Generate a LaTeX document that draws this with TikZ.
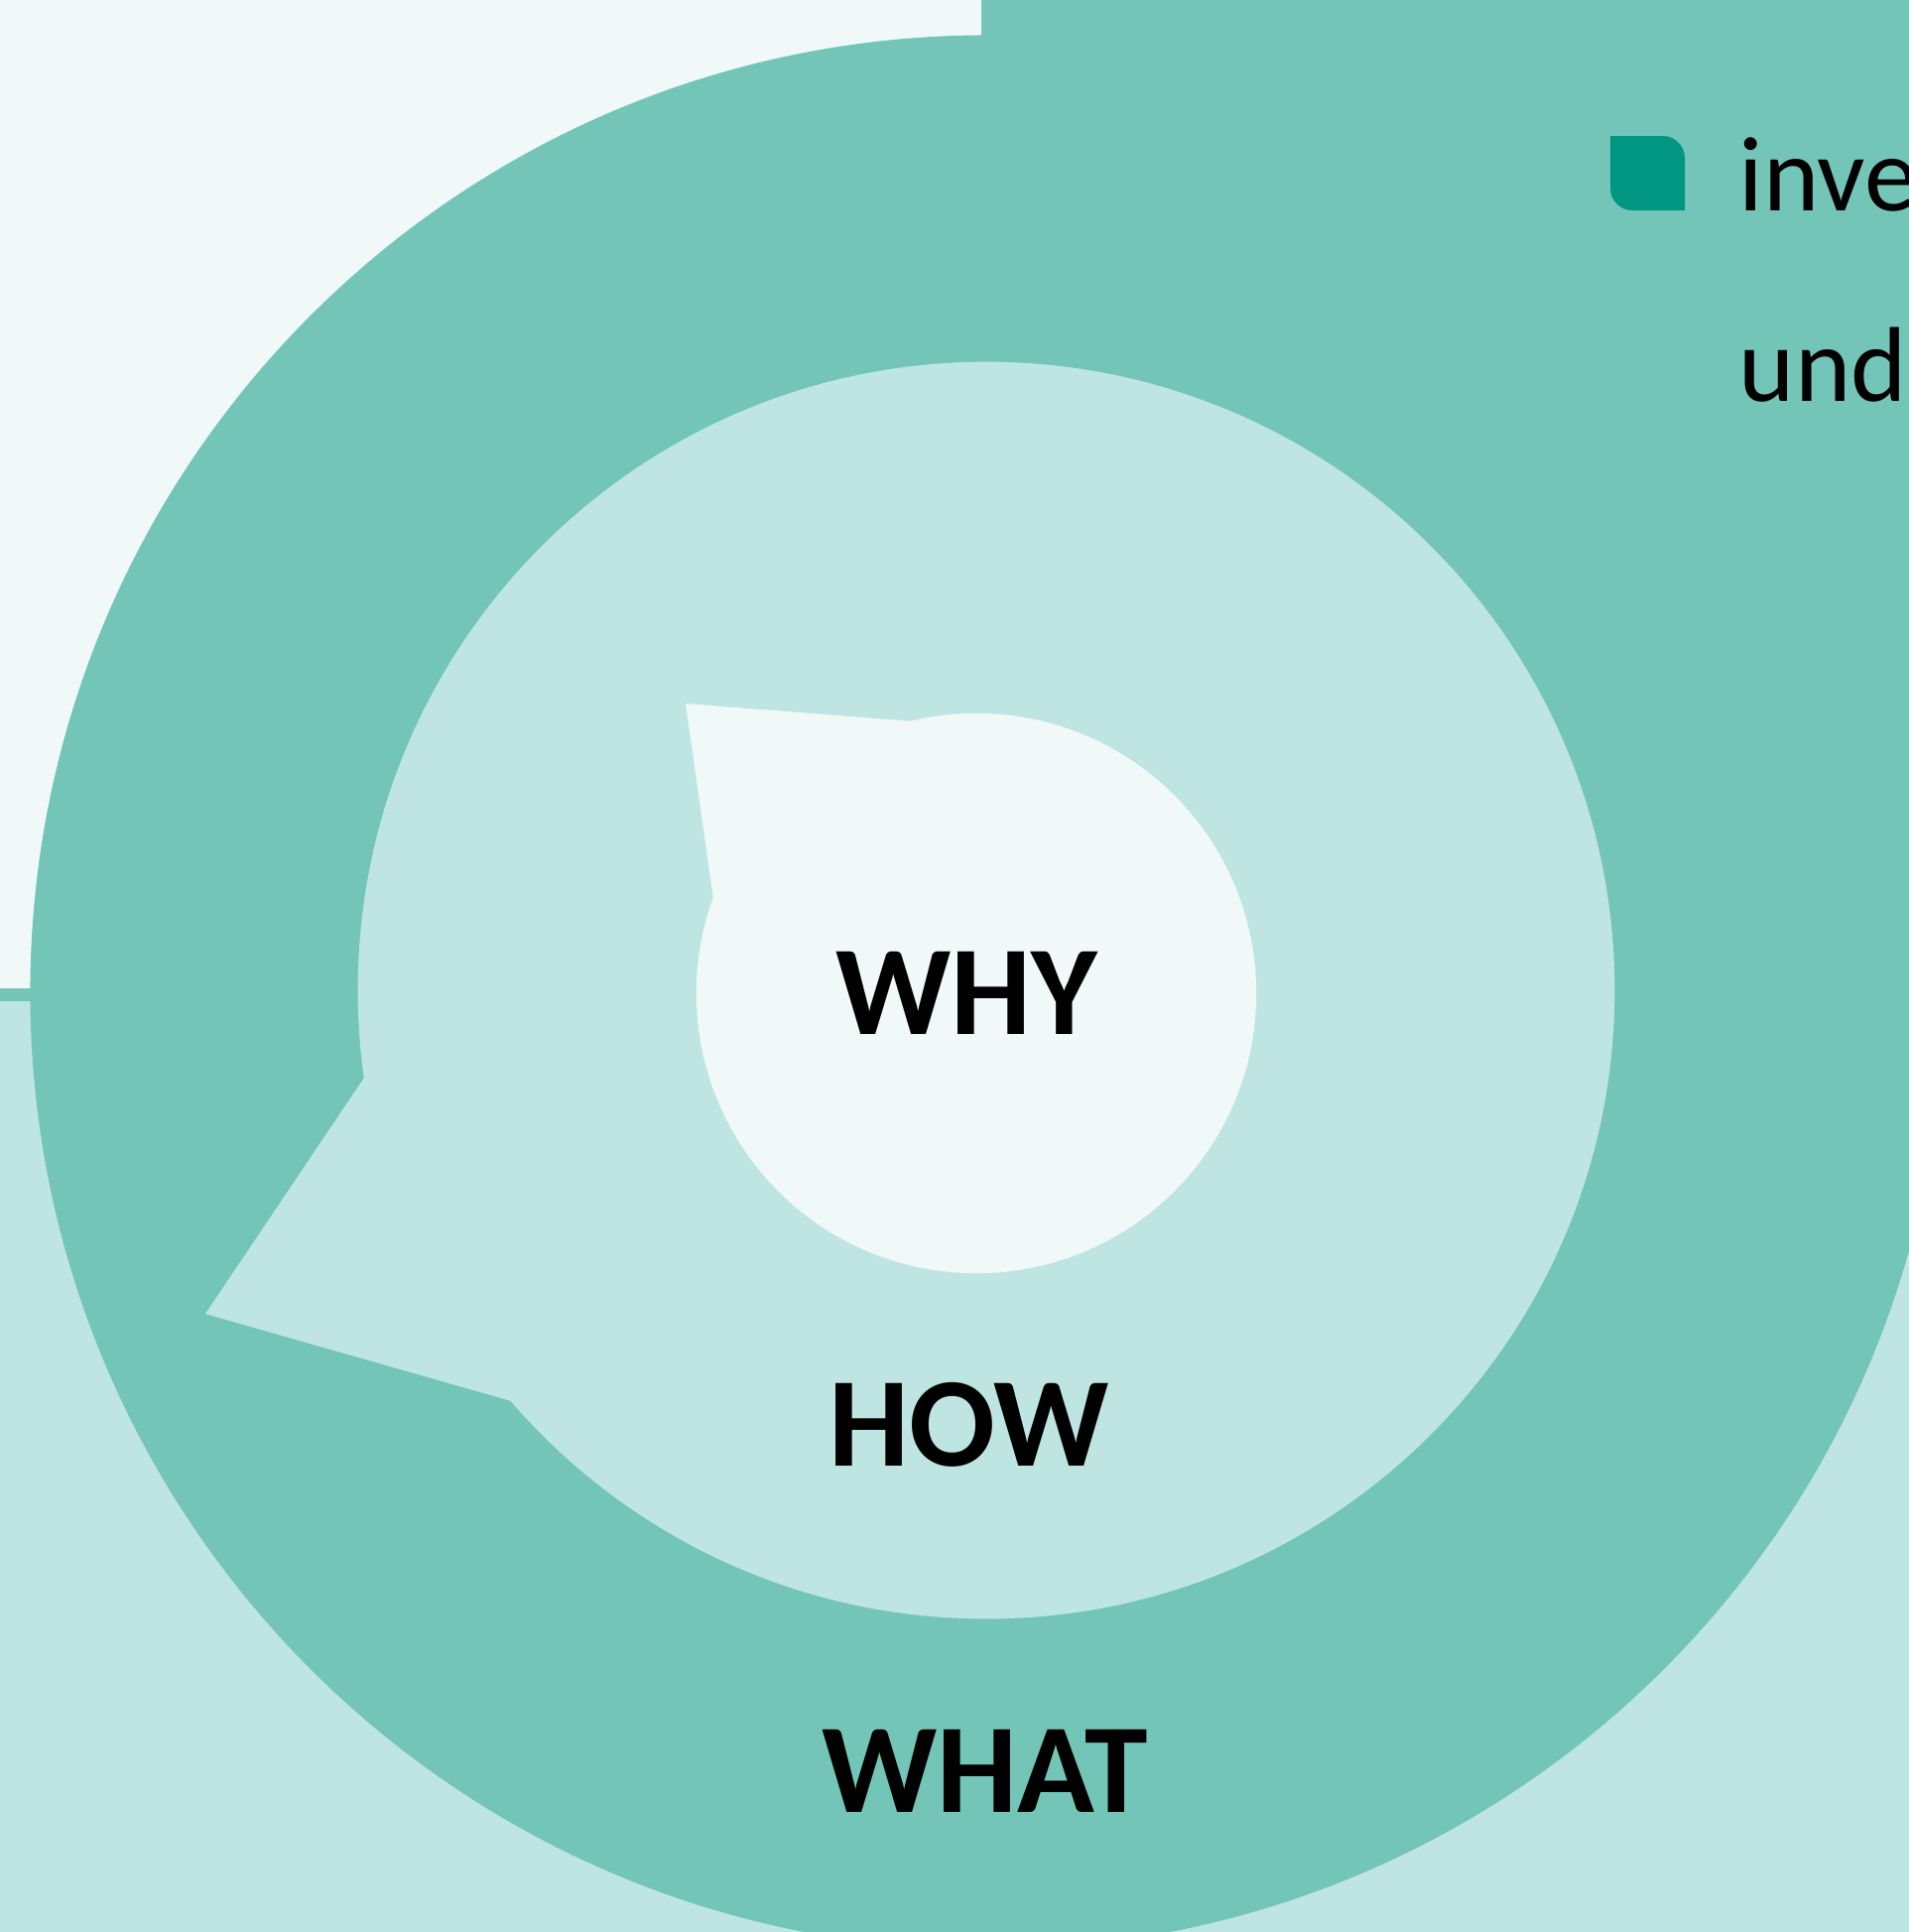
\documentclass[tikz,border=0pt]{standalone}
\usepackage{fontspec}
\setmainfont{Carlito}
\definecolor{paleaqua}{HTML}{F0F9F8}
\definecolor{midteal}{HTML}{73C5B8}
\definecolor{softteal}{HTML}{BEE5E1}
\definecolor{deepteal}{HTML}{009682}
\begin{document}
\begin{tikzpicture}[x=0.01cm,y=-0.01cm,
  label/.style={inner sep=0pt,anchor=base,font=\fontsize{36.5}{40}\selectfont\bfseries},
  legendtext/.style={inner sep=0pt,anchor=base west,font=\fontsize{30.5}{34}\selectfont}]
  \useasboundingbox (0,0) rectangle (1924,1947);
  \clip (0,0) rectangle (1924,1947);
  % background panels
  \fill[softteal] (0,0) rectangle (1924,1947);
  \fill[paleaqua] (0,0) rectangle (989,996);
  \fill[midteal] (989,0) rectangle (1924,1009);
  \fill[midteal] (0,996) rectangle (32,1009);
  % outer ring
  \fill[midteal] (995,1000) circle[radius=9.64cm];
  % middle disc with its pointer
  \fill[softteal] (994,998) circle[radius=6.33cm];
  \fill[softteal] (369,1083) -- (207,1324) -- (519,1413) -- (994,998) -- cycle;
  % inner disc with its pointer
  \fill[paleaqua] (984,1001) circle[radius=2.82cm];
  \fill[paleaqua] (921,727) -- (691,709) -- (719,906) -- (984,1001) -- cycle;
  % labels
  \node[label] (why) at (974,1042) {WHY};
  \node[label] (how) at (977,1477) {HOW};
  \node[label] (what) at (993,1826) {WHAT};
  % legend swatch: leaf shape, rounded at top right and bottom left
  \fill[deepteal] (1623,137) -- (1676,137)
      .. controls (1688,137) and (1698,147) .. (1698,159)
      -- (1698,212) -- (1645,212)
      .. controls (1633,212) and (1623,202) .. (1623,190) -- cycle;
  \node[legendtext] (leg1) at (1752,212) {inve};
  \node[legendtext] (leg2) at (1752,404) {und};
\end{tikzpicture}
\end{document}
